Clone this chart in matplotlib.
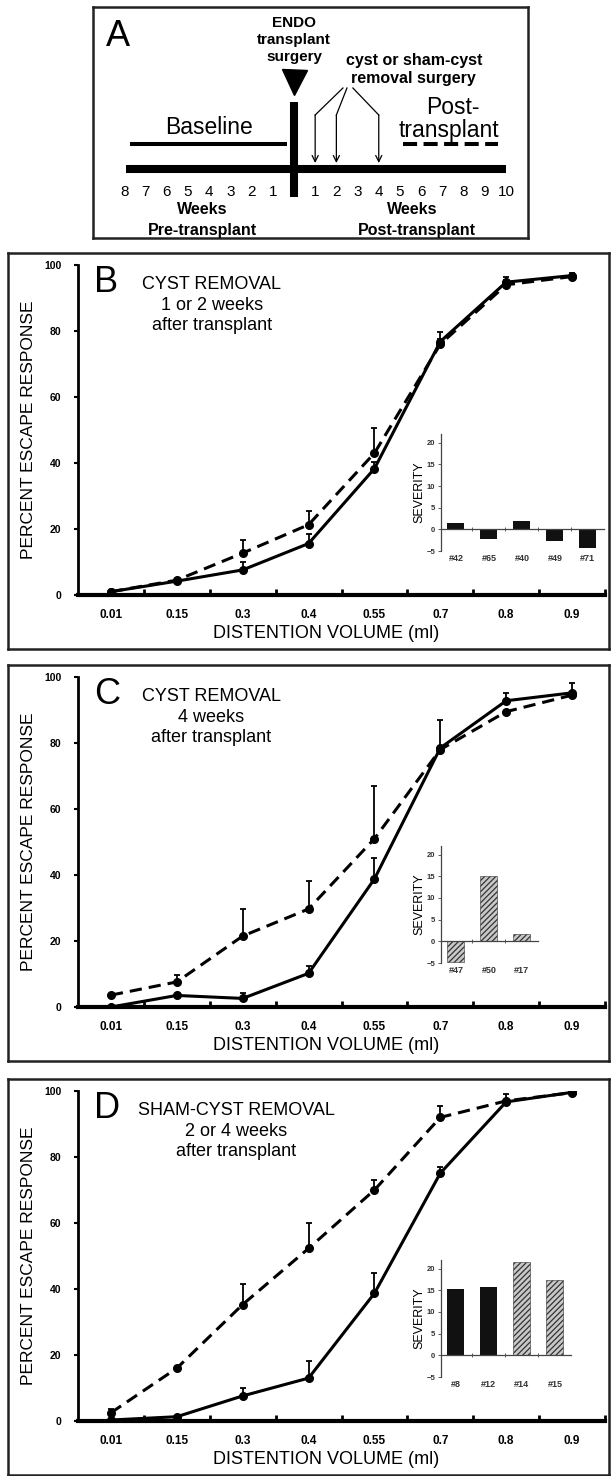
import matplotlib.pyplot as plt
import numpy as np

plt.rcParams['font.family'] = ['Liberation Sans', 'DejaVu Sans']
plt.rcParams['hatch.linewidth'] = 0.9

W, H = 612, 1476

# --- panel A timeline ---
pre_weeks = [8, 7, 6, 5, 4, 3, 2, 1]
post_weeks = [1, 2, 3, 4, 5, 6, 7, 8, 9, 10]
removal_weeks = [1, 2, 4]

# --- panels B-D: escape response curves ---
volumes = ['0.01', '0.15', '0.3', '0.4', '0.55', '0.7', '0.8', '0.9']

b_dashed = [1.0, 4.5, 12.7, 21.3, 43.0, 76.0, 94.0, 96.5]
b_dashed_err = [0, 0, 4.0, 4.3, 7.5, 1.5, 1.5, 0.8]
b_solid = [1.0, 4.2, 7.6, 15.6, 38.3, 76.8, 94.8, 96.8]
b_solid_err = [0, 0, 2.4, 3.0, 2.0, 3.0, 1.5, 0.8]
b_ids = ['#42', '#65', '#40', '#49', '#71']
b_sev = [1.4, -2.3, 1.9, -2.7, -4.3]
b_hatch = [False, False, False, False, False]

c_dashed = [3.6, 7.6, 21.5, 29.7, 51.0, 78.0, 89.5, 94.5]
c_dashed_err = [0, 2.1, 8.2, 8.5, 16.0, 0, 0, 0]
c_solid = [0.0, 3.5, 2.6, 10.2, 38.8, 78.5, 92.8, 95.2]
c_solid_err = [0, 0, 1.6, 2.2, 6.4, 8.5, 2.3, 3.0]
c_ids = ['#47', '#50', '#17']
c_sev = [-4.8, 15.0, 1.8]
c_hatch = [True, True, True]

d_dashed = [2.5, 16.0, 35.3, 52.3, 70.0, 92.0, 97.0, 99.5]
d_dashed_err = [1.0, 0.5, 6.2, 7.7, 3.0, 3.5, 2.0, 0]
d_solid = [0.3, 1.3, 7.6, 13.0, 38.7, 75.1, 96.7, 99.6]
d_solid_err = [0, 0.3, 2.4, 5.1, 6.1, 2.0, 0, 0]
d_ids = ['#8', '#12', '#14', '#15']
d_sev = [15.2, 15.8, 21.6, 17.3]
d_hatch = [False, False, True, True]


def px_rect(left, top, width, height):
   return [left / W, 1 - (top + height) / H, width / W, height / H]


def fig_text(fig, x, y, s, **kw):
   fig.text(x / W, 1 - y / H, s, **kw)


fig = plt.figure(figsize=(W / 100, H / 100), dpi=100)

# ---------------- panel A ----------------
axA = fig.add_axes(px_rect(93, 7, 435, 231))
axA.set_xlim(-9.48, 11.04)
axA.set_ylim(231, 0)
axA.set_xticks([])
axA.set_yticks([])
for s in axA.spines.values():
   s.set_linewidth(1.8)
   s.set_color('#222')

axA.text(-8.28, 29.5, 'A', fontsize=26, ha='center', va='center')
axA.text(0, 33, 'ENDO\ntransplant\nsurgery', fontsize=11, fontweight='bold',
         ha='center', va='center', linespacing=1.3)
axA.plot(0, 74.5, marker='v', ms=18, color='k')
axA.plot([0, 0], [95, 190], color='k', lw=5.8, solid_capstyle='butt')
axA.plot([-7.9, 10], [162, 162], color='k', lw=5.8, solid_capstyle='butt')

axA.plot([-7.74, -0.33], [137, 137], color='k', lw=2.9, solid_capstyle='butt')
axA.text(-4.0, 121, 'Baseline', fontsize=16.5, ha='center', va='center')
axA.plot([5.14, 9.62], [137, 137], color='k', lw=2.9, ls=(0, (3.5, 1.6)),
         dash_capstyle='butt')
axA.text(7.5, 101, 'Post-', fontsize=16.5, ha='center', va='center')
axA.text(7.3, 123, 'transplant', fontsize=16.5, ha='center', va='center')

axA.text(5.65, 63, 'cyst or sham-cyst\nremoval surgery', fontsize=11.5,
         fontweight='bold', ha='center', va='center', linespacing=1.25)
starts = [2.31, 2.5, 2.78]
for w, sx in zip(removal_weeks, starts):
   axA.plot([sx, w], [81, 108], color='k', lw=0.9)
   axA.annotate('', xy=(w, 156), xytext=(w, 108),
                arrowprops=dict(arrowstyle='->', lw=0.9, color='k',
                                mutation_scale=11, shrinkA=0, shrinkB=0))

for w in pre_weeks:
   axA.text(-w, 185, str(w), fontsize=11, ha='center', va='center')
for w in post_weeks:
   axA.text(w, 185, str(w), fontsize=11, ha='center', va='center')
axA.text(-4.34, 203, 'Weeks', fontsize=11.5, fontweight='bold', ha='center', va='center')
axA.text(-4.34, 223, 'Pre-transplant', fontsize=11.5, fontweight='bold', ha='center', va='center')
axA.text(5.6, 203, 'Weeks', fontsize=11.5, fontweight='bold', ha='center', va='center')
axA.text(5.8, 223, 'Post-transplant', fontsize=11.5, fontweight='bold', ha='center', va='center')


# ---------------- panels B-D ----------------
def draw_panel(top, letter, title, title_cx, dashed, dashed_err, solid, solid_err,
               ids, sev, hatched):
   frame = fig.add_axes(px_rect(8, top, 601, 396))
   frame.set_xticks([])
   frame.set_yticks([])
   frame.set_facecolor('none')
   for s in frame.spines.values():
      s.set_linewidth(1.8)
      s.set_color('#222')

   ax = fig.add_axes(px_rect(78, top + 12, 527, 330))
   ax.set_facecolor('none')
   x = np.arange(len(volumes))
   ax.errorbar(x, dashed, yerr=[np.zeros(len(x)), dashed_err], fmt='none',
               ecolor='k', elinewidth=1.3, capsize=2, capthick=1.3)
   ax.errorbar(x, solid, yerr=[np.zeros(len(x)), solid_err], fmt='none',
               ecolor='k', elinewidth=1.3, capsize=2, capthick=1.3)
   ax.plot(x, dashed, color='k', lw=2.2, ls=(0, (4, 2.3)), marker='o', ms=5.5)
   ax.plot(x, solid, color='k', lw=2.2, marker='o', ms=5.5)

   ax.set_xlim(-0.5, 7.5)
   ax.set_ylim(0, 100)
   ax.spines['top'].set_visible(False)
   ax.spines['right'].set_visible(False)
   ax.spines['left'].set_linewidth(2)
   ax.spines['bottom'].set_linewidth(3)
   ax.set_yticks(np.arange(0, 101, 20))
   ax.tick_params(axis='y', direction='out', length=3, width=1.5, pad=9,
                  labelsize=7.5)
   ax.set_xticks(x)
   ax.set_xticklabels(volumes)
   ax.set_xticks(x + 0.5, minor=True)
   ax.tick_params(axis='x', which='major', length=0, pad=10, labelsize=8.5)
   ax.tick_params(axis='x', which='minor', direction='in', length=4, width=2)
   for lab in ax.get_xticklabels() + ax.get_yticklabels():
      lab.set_fontweight('bold')

   fig_text(fig, 94, top + 30, letter, fontsize=26, ha='left', va='center')
   fig_text(fig, title_cx, top + 52, title, fontsize=13, ha='center', va='center',
            linespacing=1.3)
   fig_text(fig, 29, top + 177, 'PERCENT ESCAPE RESPONSE', fontsize=12.5,
            rotation=90, ha='center', va='center')
   fig_text(fig, 326, top + 380, 'DISTENTION VOLUME (ml)', fontsize=13,
            ha='center', va='center')

   n = len(ids)
   ins = fig.add_axes(px_rect(441, top + 181, (n - 0.05) * 33, 117))
   ins.set_facecolor('none')
   pos = np.arange(n)
   for p, v, h in zip(pos, sev, hatched):
      if h:
         ins.bar(p, v, width=0.52, facecolor='#c8c8c8', edgecolor='#333',
                 hatch='//////', linewidth=0.4)
      else:
         ins.bar(p, v, width=0.52, color='#111')
   ins.set_xlim(-0.45, n - 0.5)
   ins.set_ylim(-5, 22)
   ins.spines['top'].set_visible(False)
   ins.spines['right'].set_visible(False)
   ins.spines['left'].set_linewidth(0.9)
   ins.spines['left'].set_color('#444')
   ins.spines['bottom'].set_position(('data', 0))
   ins.spines['bottom'].set_linewidth(0.9)
   ins.spines['bottom'].set_color('#444')
   ins.set_yticks([-5, 0, 5, 10, 15, 20])
   ins.tick_params(axis='y', length=2, width=0.6, pad=2, labelsize=5.5,
                   labelcolor='#333', color='#444')
   ins.set_xticks(pos[:-1] + 0.5)
   ins.set_xticklabels([])
   ins.tick_params(axis='x', which='major', direction='inout', length=2.5,
                   width=0.6, color='#444')
   ins.set_xticks(pos, minor=True)
   ins.set_xticklabels(ids, minor=True)
   ins.tick_params(axis='x', which='minor', length=0, pad=18, labelsize=6.5,
                   labelcolor='#333')
   for lab in ins.get_yticklabels() + ins.get_xticklabels(minor=True):
      lab.set_fontweight('bold')
   ins.set_ylabel('SEVERITY', fontsize=9, labelpad=1)


draw_panel(253, 'B', 'CYST REMOVAL\n1 or 2 weeks\nafter transplant', 212,
           b_dashed, b_dashed_err, b_solid, b_solid_err, b_ids, b_sev, b_hatch)
draw_panel(665, 'C', 'CYST REMOVAL\n4 weeks\nafter transplant', 211,
           c_dashed, c_dashed_err, c_solid, c_solid_err, c_ids, c_sev, c_hatch)
draw_panel(1079, 'D', 'SHAM-CYST REMOVAL\n2 or 4 weeks\nafter transplant', 236,
           d_dashed, d_dashed_err, d_solid, d_solid_err, d_ids, d_sev, d_hatch)

fig.savefig('out.png', dpi=100)
